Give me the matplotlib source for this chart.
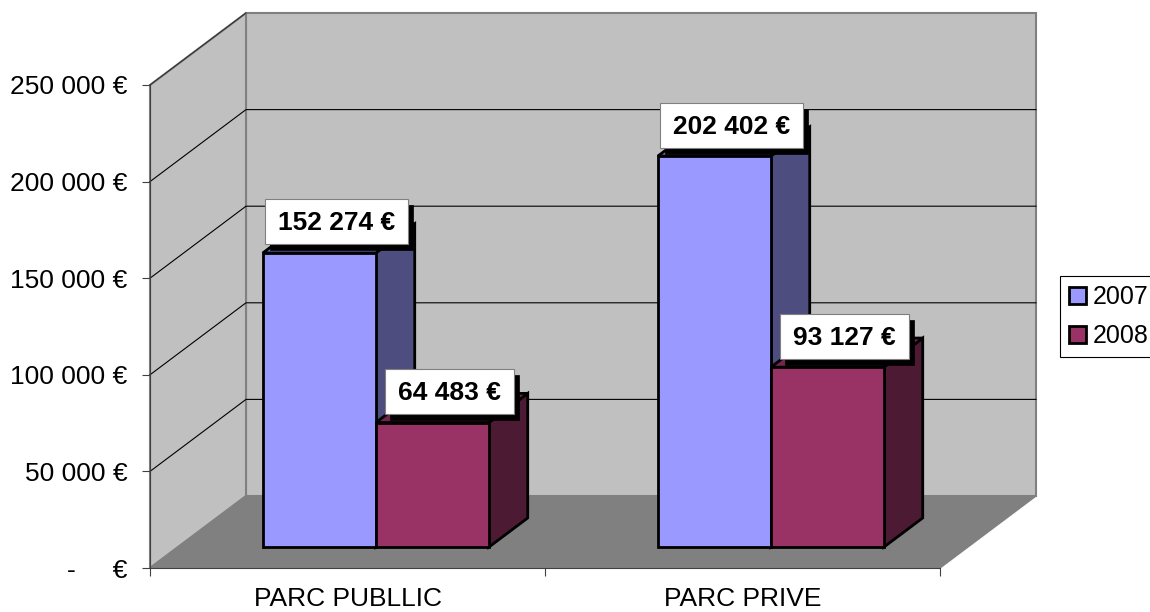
import matplotlib.pyplot as plt
from matplotlib.patches import Patch, Polygon, Rectangle

plt.rcParams['font.family'] = ['Liberation Sans', 'DejaVu Sans']

categories = ['PARC PUBLLIC', 'PARC PRIVE']
years = ['2007', '2008']
values_2007 = [152274, 202402]
values_2008 = [64483, 93127]
labels_2007 = ['152 274 €', '202 402 €']
labels_2008 = ['64 483 €', '93 127 €']
y_ticks = [0, 50000, 100000, 150000, 200000, 250000]
y_tick_labels = ['-     €', '50 000 €', '100 000 €', '150 000 €', '200 000 €', '250 000 €']

# pixel sizes expressed in data units
W, H = 1150, 612
PX_X = 1 / 395
PX_Y = 250000 / 483
DEPTH_X = 96 * PX_X
DEPTH_Y = 72 * PX_Y
BAR_W = 113 * PX_X
GAP = 85 * PX_X
D0, D1 = 0.29, 0.695
YMAX = 250000
N = len(categories)


def pt(x, d, y):
    # project a point with depth d (0 front, 1 back wall)
    return (x + d * DEPTH_X, y + d * DEPTH_Y)


fig = plt.figure(figsize=(W / 100, H / 100), dpi=100)
ax = fig.add_axes([0, 0, 1, 1])
ax.set_xlim(-150 * PX_X, (W - 150) * PX_X)
ax.set_ylim(-(H - 568) * PX_Y, 568 * PX_Y)
ax.patch.set_visible(False)

# walls and floor
ax.add_patch(Polygon([pt(0, 1, 0), pt(N, 1, 0), pt(N, 1, YMAX), pt(0, 1, YMAX)],
                     fc='#c0c0c0', ec='#808080', lw=1.5, zorder=1))
ax.add_patch(Polygon([pt(0, 0, 0), pt(0, 1, 0), pt(0, 1, YMAX), pt(0, 0, YMAX)],
                     fc='#c0c0c0', ec='#808080', lw=1.5, zorder=1))
ax.add_patch(Polygon([pt(0, 0, 0), pt(N, 0, 0), pt(N, 1, 0), pt(0, 1, 0)],
                     fc='#808080', ec='#808080', lw=1, zorder=1.1))

# gridlines on left and back wall
for v in y_ticks[1:]:
    a, b, c = pt(0, 0, v), pt(0, 1, v), pt(N, 1, v)
    lc = '#808080' if v == YMAX else 'black'
    ax.plot([a[0], b[0], c[0]], [a[1], b[1], c[1]], color=lc, lw=0.8, zorder=1.5)
ax.plot([0, DEPTH_X], [YMAX, YMAX + DEPTH_Y], color='#303030', lw=0.8, zorder=1.6)


def draw_bar(x, v, front, top, side):
    ax.add_patch(Polygon([pt(x + BAR_W, D0, 0), pt(x + BAR_W, D1, 0), pt(x + BAR_W, D1, v), pt(x + BAR_W, D0, v)],
                         fc=side, ec='black', lw=2, zorder=3))
    ax.add_patch(Polygon([pt(x, D0, v), pt(x + BAR_W, D0, v), pt(x + BAR_W, D1, v), pt(x, D1, v)],
                         fc=top, ec='black', lw=2, zorder=3))
    ax.add_patch(Polygon([pt(x, D0, 0), pt(x + BAR_W, D0, 0), pt(x + BAR_W, D0, v), pt(x, D0, v)],
                         fc=front, ec='black', lw=2, zorder=3))


def draw_label(x, v, txt):
    cx, cy = pt(x, D0, v)
    cx += 73.5 * PX_X
    cy += 31 * PX_Y
    t = ax.text(cx, cy - 1.5 * PX_Y, txt, ha='center', va='center', fontsize=19, fontweight='bold',
                color='black', zorder=6)
    w = t.get_window_extent(fig.canvas.get_renderer()).width + 26
    h = 45
    x0, y0 = cx - w / 2 * PX_X, cy - h / 2 * PX_Y
    ax.add_patch(Rectangle((x0 + 5 * PX_X, y0 - 6 * PX_Y), w * PX_X, h * PX_Y, fc='black', ec='black', lw=0.5, zorder=5))
    ax.add_patch(Rectangle((x0, y0), w * PX_X, h * PX_Y, fc='white', ec='#808080', lw=0.8, zorder=5.5))


for i in range(N):
    x0 = i + GAP
    draw_bar(x0, values_2007[i], '#9999ff', '#7373bf', '#4d4d80')
    draw_bar(x0 + BAR_W, values_2008[i], '#993366', '#73264d', '#4d1a33')
for i in range(N):
    x0 = i + GAP
    draw_label(x0, values_2007[i], labels_2007[i])
    draw_label(x0 + BAR_W, values_2008[i], labels_2008[i])

# axes
for s in ['top', 'right']:
    ax.spines[s].set_visible(False)
ax.spines['left'].set_position(('data', 0))
ax.spines['bottom'].set_position(('data', 0))
ax.spines['left'].set_bounds(0, YMAX)
ax.spines['bottom'].set_bounds(0, N)
ax.spines['left'].set_color('#404040')
ax.spines['bottom'].set_color('#404040')
ax.set_yticks(y_ticks)
ax.set_yticklabels(y_tick_labels, fontsize=19)
ax.set_xticks(range(N + 1))
ax.set_xticklabels([])
ax.set_xticks([i + 0.5 for i in range(N)], minor=True)
ax.set_xticklabels(categories, minor=True, fontsize=19)
ax.tick_params(axis='y', length=5.8, width=0.8, pad=10.5, color='#404040')
ax.tick_params(axis='x', which='major', length=5.8, width=0.8, color='#404040')
ax.tick_params(axis='x', which='minor', length=0, pad=14)

handles = [Patch(fc='#9999ff', ec='black', lw=2), Patch(fc='#993366', ec='black', lw=2)]
leg = ax.legend(handles, years, loc='upper left', bbox_to_anchor=(1060 / W, 1 - 276 / H),
                bbox_transform=fig.transFigure, fontsize=18, fancybox=False, framealpha=1,
                edgecolor='black', borderaxespad=0, borderpad=0.36, handlelength=0.66,
                handleheight=0.66, handletextpad=0.3, labelspacing=0.62)
leg.get_frame().set_linewidth(0.8)
leg.set_zorder(7)

plt.savefig('out.png', dpi=100)
plt.close()
